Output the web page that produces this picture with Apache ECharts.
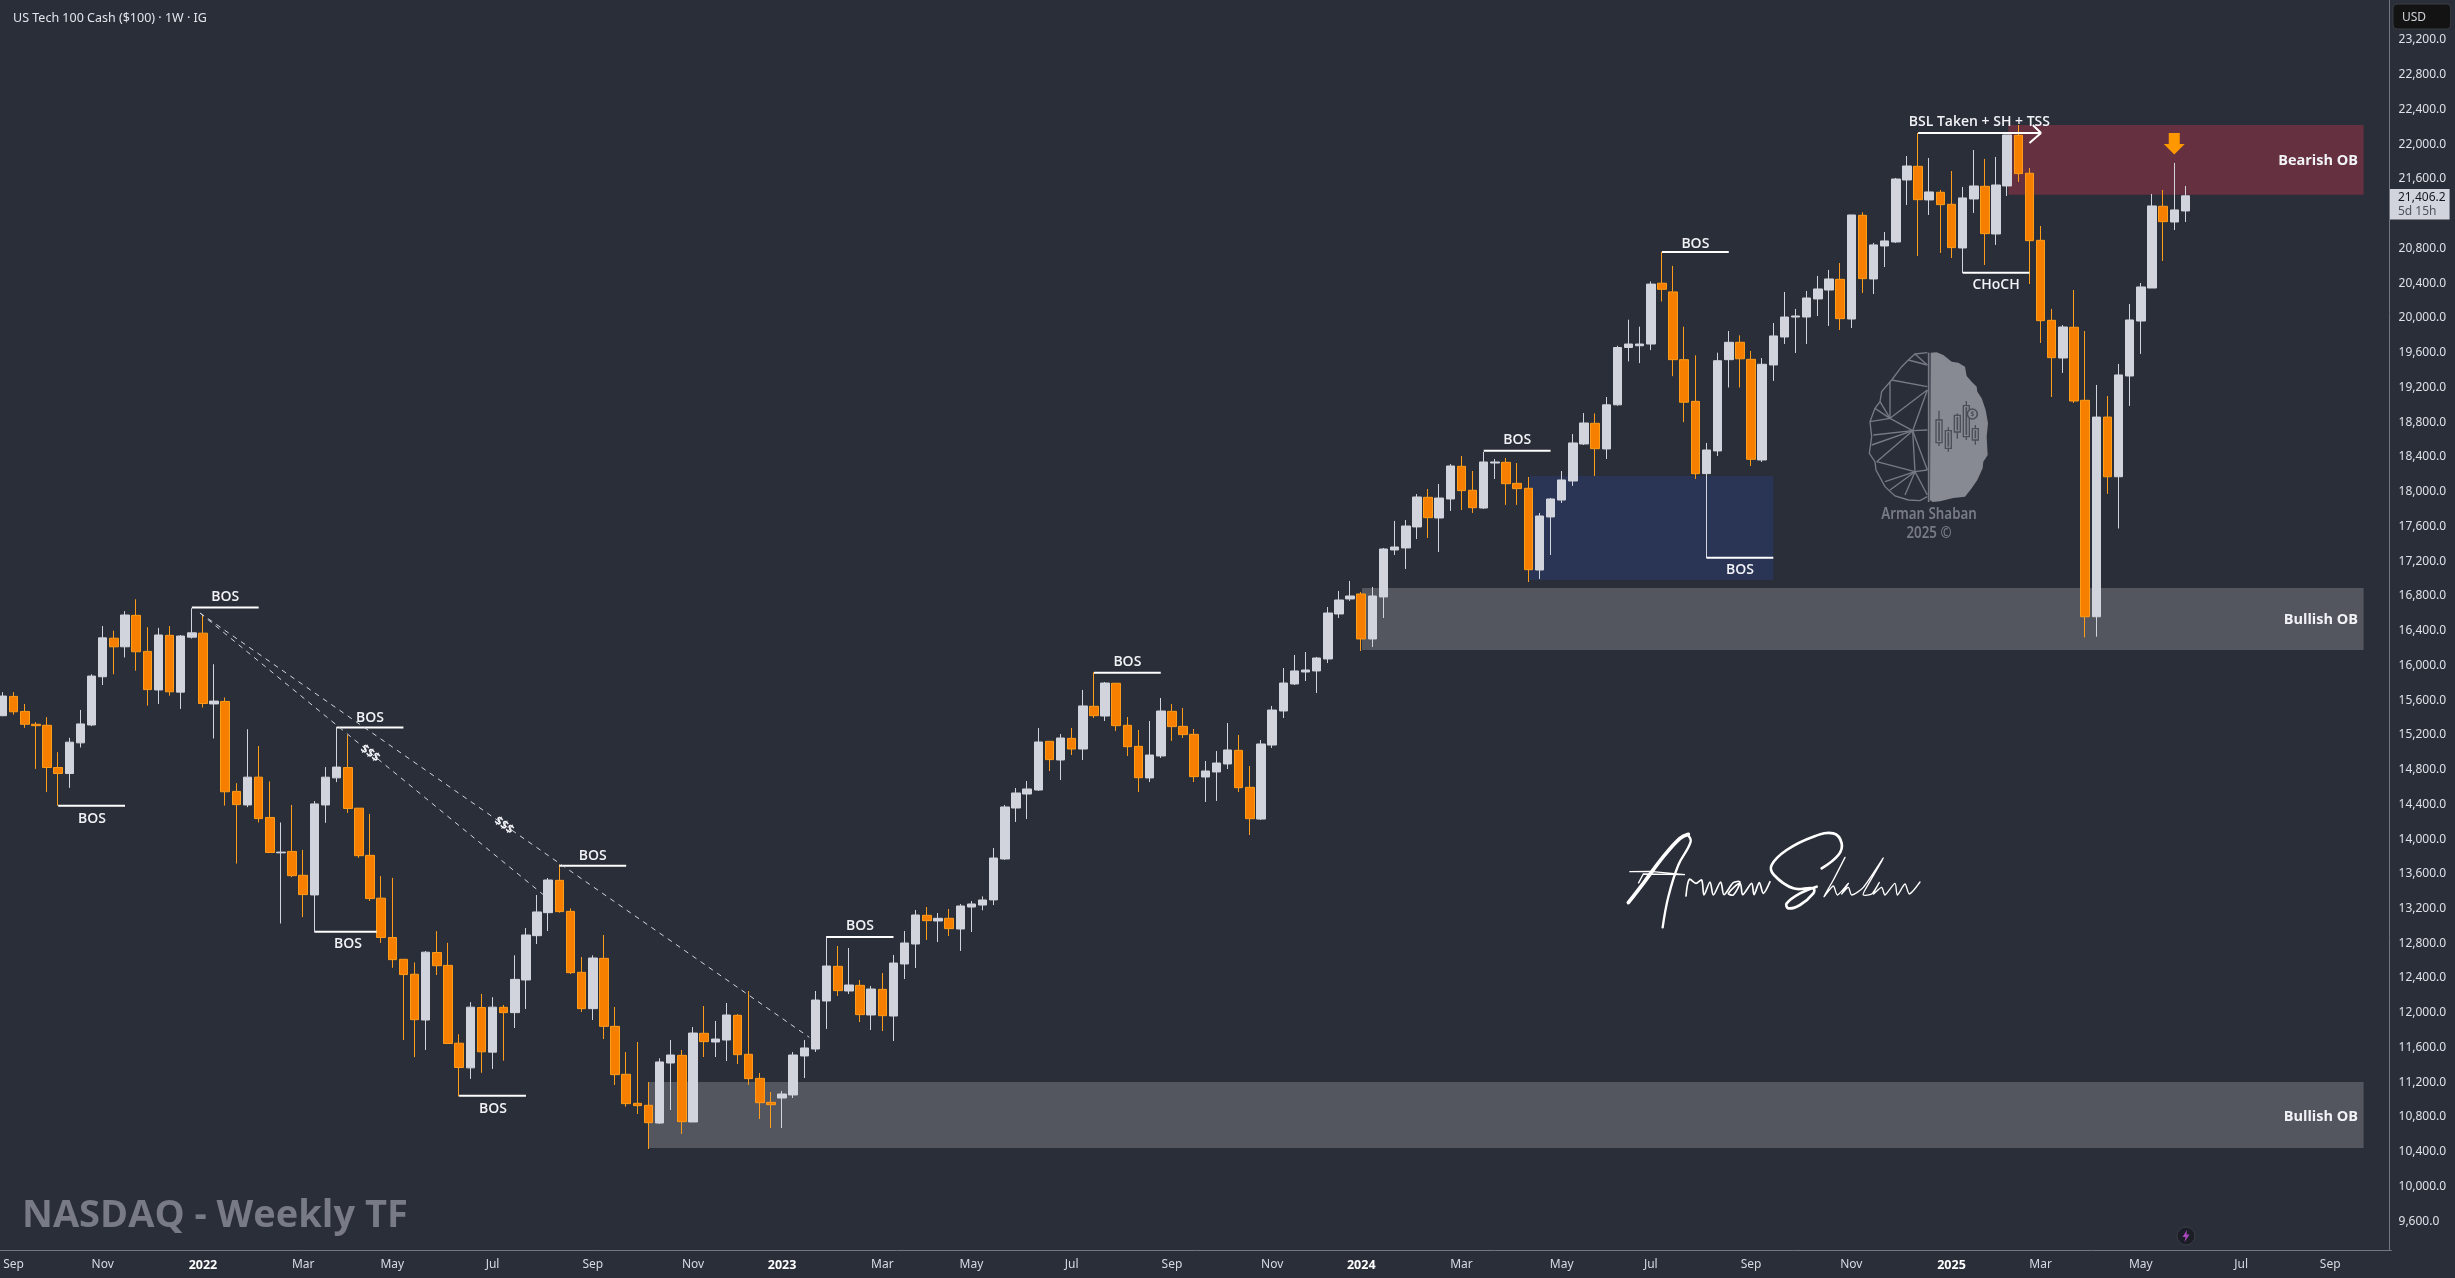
<!DOCTYPE html>
<html><head><meta charset="utf-8"><title>US Tech 100 Weekly</title>
<style>html,body{margin:0;padding:0;background:#2a2e39;overflow:hidden}#c{width:2455px;height:1278px}</style>
<script src="https://cdn.jsdelivr.net/npm/echarts@6/dist/echarts.min.js"></script>
</head><body><div id="c"></div>
<script>
// [open, close, low, high] per weekly bar, from the week of 30 Aug 2021
const candles2021=[[15421,15647,15415,15692],[15643,15466,15433,15692],[15470,15322,15281,15556],[15322,15306,14808,15347],[15310,14824,14541,15404],[14824,14755,14385,15001],[14755,15116,14590,15166],[15108,15326,15055,15487],[15314,15877,15301,15898],[15869,16317,15774,16453],[16313,16214,15898,16399],[16214,16580,16091,16625],[16576,16157,15939,16761],[16161,15721,15536,16440],[15717,16350,15556,16432],[16346,15696,15651,16453],[15692,16338,15499,16350],[16325,16375,16309,16658]];
const candles2022=[[16371,15561,15515,16576],[15556,15589,15158,16013],[15585,14545,14385,15630],[14549,14397,13718,14644],[14393,14713,14368,15265],[14713,14236,14191,15071],[14249,13846,13842,14664],[13842,13850,13028,14191],[13858,13579,13562,14393],[13583,13361,13102,13875],[13357,14405,12937,14438],[14393,14713,14187,14829],[14705,14829,14656,15289],[14824,14352,14302,15199],[14356,13809,13784,14356],[13813,13315,13287,14290],[13320,12867,12805,13574],[12867,12612,12518,13554],[12616,12440,11687,12616],[12444,11921,11490,12579],[11917,12698,11572,12711],[12694,12542,12435,12941],[12546,11646,11646,12806],[11650,11370,11037,11753],[11366,12065,11239,12123],[12061,11551,11309,12218],[11547,12065,11354,12180],[12063,12002,11449,12090],[12002,12385,11825,12662],[12378,12896,12044,12976],[12888,13161,12792,13356],[13153,13529,12942,13552],[13525,13165,13153,13709],[13168,12462,12447,13203],[12466,12048,12009,12642],[12048,12631,11917,12662],[12627,11844,11698,12896],[11844,11288,11169,12067],[11292,10954,10919,11549],[10958,10931,10835,11664],[10935,10735,10432,11203],[10731,11434,10720,11476],[11422,11514,10881,11687],[11510,10747,10605,11572],[10743,11767,10743,11836],[11764,11668,11491,12078],[11664,11698,11491,11906],[11687,11975,11445,12113],[11971,11518,11410,11986],[11522,11242,11169,12251],[11245,10965,10777,11307],[10969,10942,10674,11088]];
const candles2023=[[11019,11065,10674,11100],[11054,11514,11019,11549],[11503,11595,11249,11687],[11583,12147,11549,12251],[12136,12539,11814,12884],[12535,12255,12193,12769],[12251,12320,12216,12746],[12316,11979,11894,12378],[11975,12274,11802,12309],[12270,11967,11790,12458],[11963,12573,11675,12666],[12562,12804,12389,12942],[12792,13126,12516,13184],[13122,13061,12838,13218],[13057,13088,12815,13149],[13088,12969,12884,13195],[12965,13230,12712,13253],[13218,13253,12930,13287],[13241,13299,13180,13340],[13300,13782,13240,13898],[13771,14370,13760,14393],[14358,14531,14197,14588],[14519,14577,14231,14669],[14565,15118,14554,15279],[15126,14915,14784,15126],[14911,15164,14680,15210],[15160,15037,14968,15279],[15037,15533,14911,15717],[15529,15421,15394,15920],[15417,15797,15360,15809],[15794,15306,15245,15794],[15310,15064,14957,15406],[15068,14707,14542,15256],[14704,14968,14657,15360],[14957,15475,14934,15625],[15471,15295,15130,15556],[15298,15203,15164,15510],[15206,14719,14657,15268],[14715,14784,14427,14899],[14773,14876,14439,15014],[14865,15026,14807,15337],[15022,14592,14542,15199],[14596,14235,14047,14842],[14231,15095,14220,15141],[15083,15486,15049,15533],[15475,15797,15394,15970],[15786,15936,15774,16120],[15924,15947,15820,16154],[15936,16085,15682,16097],[16074,16603,16028,16672],[16592,16753,16546,16857],[16765,16799,16742,16972]];
const candles2024=[[16822,16304,16166,16845],[16304,16799,16212,16903],[16788,17340,16546,17352],[17329,17363,17271,17663],[17352,17605,17110,17674],[17594,17939,17455,17973],[17935,17701,17467,18031],[17697,17927,17306,18089],[17916,18296,17778,18319],[18292,18012,17789,18411],[18016,17816,17755,18238],[17812,18342,17801,18457],[18330,18342,18146,18376],[18338,18092,17847,18388],[18096,18035,17847,18330],[18039,17102,16960,18169],[17098,17720,16995,17755],[17709,17916,17271,17927],[17904,18135,17870,18238],[18123,18561,18066,18664],[18549,18791,18538,18905],[18787,18495,18181,18900],[18492,19000,18376,19090],[19000,19660,18990,19680],[19660,19700,19500,19980],[19680,19700,19480,19900],[19700,20390,19630,20420],[20400,20330,20190,20760],[20300,19520,19330,20600],[19520,19030,18800,19900],[19040,18207,18146,19570],[18208,18480,17237,18561],[18469,19508,18411,19600],[19520,19720,19200,19850],[19720,19530,19200,19800],[19524,18373,18296,19620],[18365,19467,18342,19539],[19459,19793,19275,19942],[19781,20011,19701,20300],[20011,20023,19597,20104],[20011,20230,19701,20311],[20219,20334,20023,20484],[20322,20449,19908,20553],[20445,19992,19862,20633],[19988,21186,19885,21186],[21182,20453,20288,21217],[20449,20841,20276,20864],[20829,20887,20587,20990],[20875,21600,20864,21612],[21589,21750,21301,21865],[21746,21362,20714,22130],[21359,21451,21186,21842],[21447,21305,20748,21474]];
const candles2025=[[21309,20810,20691,21692],[20806,21382,20518,21508],[21370,21520,21209,21934],[21516,20971,20610,21831],[20967,21531,20841,21854],[21520,22107,21405,22107],[22103,21662,21566,22222],[21666,20890,20391,21727],[20894,19969,19712,21059],[19973,19543,19090,20104],[19539,19896,19367,19919],[19893,19044,19021,20322],[19052,16560,16322,19850],[16560,18859,16330,19229],[18859,18172,17975,19101],[18172,19344,17576,19471],[19332,19977,18987,20161],[19965,20357,19586,20403],[20345,21290,20345,21428],[21286,21109,20656,21474],[21105,21244,21013,21785],[21232,21406.2,21105,21520]];
const firstWeek='2021-08-30';
const weekSlots=215;
const priceMin=9269, priceMax=23661;
const yTicks=[9600,10000,10400,10800,11200,11600,12000,12400,12800,13200,13600,14000,14400,14800,15200,15600,16000,16400,16800,17200,17600,18000,18400,18800,19200,19600,20000,20400,20800,21200,21600,22000,22400,22800,23200];
const xTickWeeks=[1,9,18,27,35,44,53,62,70,79,87,96,105,114,122,131,140,148,157,166,175,183,192,201,209];
const xTickNames=['Sep','Nov','2022','Mar','May','Jul','Sep','Nov','2023','Mar','May','Jul','Sep','Nov','2024','Mar','May','Jul','Sep','Nov','2025','Mar','May','Jul','Sep'];
// zones: startWeek, endWeek, priceTop, priceBottom
const zoneBearish=[[180.1,212,22222,21420]];
const zoneBullish=[[122.07,212,16891,16177],[58,212,11203,10443]];
const zoneBlue=[[137.1,159,18181,16983]];
// solid structure lines: week0, price0, week1, price1
const structureLines=[[17,16667,23,16667],[30,15285,36,15285],[5,14385,11,14385],[28,12933,33.6,12933],[41,11045,47,11045],[50,13694,56,13694],[74,12873,80,12873],[98,15916,104,15916],[133,18472,139,18472],[149,20760,155,20760],[153,17240,159,17240],[176,20522,182,20522],[172,22130,183.04,22130],[182.3,22222,183.04,22130],[182,22015,183.04,22130]];
const dashedLines=[[17.73,16603,72.44,11718],[17.73,16603,48.7,13345]];
// text marks: week, price
const labelTexts=['BOS','BOS','BOS','BOS','BOS','BOS','BOS','BOS','BOS','BOS','BOS','BSL Taken + SH + TSS','CHoCH'];
const labelPoints=[[20,16799],[33,15417],[8.04,14254],[31.02,12804],[44.04,10915],[53,13828],[77,13011],[101,16051],[136,18607],[152,20864],[156,17110],[177.5,22268],[179,20392]];
const zoneTexts=['Bearish OB','Bullish OB','Bullish OB'];
const zonePoints=[[211.5,21827],[211.5,16546],[211.5,10823]];
const dollarTexts=['$$$','$$$'];
const dollarPoints=[[33,15003],[45.03,14174]];
const arrowPoints=[[195,21881]];

const candles=[...candles2021,...candles2022,...candles2023,...candles2024,...candles2025];
const start=new Date(firstWeek+'T00:00:00Z').getTime();
const categories=Array.from({length:weekSlots},(_,i)=>new Date(start+i*7*864e5).toISOString().slice(0,10));
const tickName={};xTickWeeks.forEach((w,i)=>{tickName[w]=xTickNames[i]});

function zoneSeries(name,data,color){
  return {type:'custom',name,xAxisIndex:1,yAxisIndex:0,z:1,silent:true,data,encode:{x:[0,1],y:[2,3]},
    renderItem:(p,api)=>{const a=api.coord([api.value(0),api.value(2)]),b=api.coord([api.value(1),api.value(3)]);
      return {type:'rect',shape:{x:a[0],y:a[1],width:b[0]-a[0],height:b[1]-a[1]},style:{fill:color}}}};
}
function lineSeries(name,data,style){
  return {type:'custom',name,xAxisIndex:1,yAxisIndex:0,z:5,silent:true,data,encode:{x:[0,2],y:[1,3]},
    renderItem:(p,api)=>{const a=api.coord([api.value(0),api.value(1)]),b=api.coord([api.value(2),api.value(3)]);
      return {type:'line',shape:{x1:a[0],y1:a[1],x2:b[0],y2:b[1]},style}}};
}
function textSeries(name,points,texts,font,align,rotation){
  return {type:'custom',name,xAxisIndex:1,yAxisIndex:0,z:6,silent:true,data:points,encode:{x:0,y:1},
    renderItem:(p,api)=>{const a=api.coord([api.value(0),api.value(1)]);
      return {type:'text',x:a[0],y:a[1]+1.5,rotation:rotation||0,
        style:{text:texts[p.dataIndex],x:0,y:0,font,fill:'#f2f3f7',align,verticalAlign:'middle'}}}};
}
const labelFont='600 14px "Open Sans"';
const wire='#787b86', fillBrain='#878a92', ink='#4c4f59';
const brainCandles=[[297,212,318,240,308],[325,262,335,272,325],[352,220,296,226,276],[379,183,300,197,290],[406,255,314,266,300]];
const brainLinks=[[262,140,155,120],[205,60,262,75],[225,42,262,75],[150,125,150,235],[262,150,150,235],[150,235,218,272],[262,150,218,272],[218,272,100,285],[218,272,95,315],[218,272,110,365],[218,272,225,395],[262,270,218,272],[225,395,110,365],[225,395,135,425],[225,395,150,450],[225,395,195,465],[225,395,262,465],[218,272,262,390],[262,390,225,395],[105,205,150,235],[90,245,150,235],[120,185,150,235]];
const option={
  animation:false,backgroundColor:'#2a2e39',
  title:{text:'US Tech 100 Cash ($100) · 1W · IG',left:8,top:7,textStyle:{fontFamily:'Noto Sans',fontSize:12.5,fontWeight:400,color:'#e3e5ec'}},
  grid:{left:-3.07,top:0,width:2394.5,height:1250,outerBoundsMode:'none',containLabel:false},
  xAxis:[
    {type:'category',data:categories,boundaryGap:true,axisTick:{show:false},splitLine:{show:false},
      axisLine:{onZero:false,lineStyle:{color:'#73767f',width:1}},
      axisLabel:{interval:i=>tickName[i]!==undefined,hideOverlap:false,margin:9,fontFamily:'Noto Sans',fontSize:12,color:'#d8dae2',
        formatter:(v,i)=>{const t=tickName[i];return /^20/.test(t)?'{y|'+t+'}':t},
        rich:{y:{fontFamily:'Noto Sans',fontSize:12.5,fontWeight:700,color:'#ffffff'}}}},
    {type:'value',show:false,min:-0.5,max:weekSlots-0.5,splitLine:{show:false}}
  ],
  yAxis:[{type:'value',position:'right',offset:-1.9,scale:true,min:priceMin,max:priceMax,splitLine:{show:false},
    axisLine:{show:true,onZero:false,lineStyle:{color:'#73767f',width:1}},axisTick:{show:false},
    axisLabel:{customValues:yTicks,margin:9,padding:[4,0,0,0],fontFamily:'Noto Sans',fontSize:12,color:'#dfe1e8',
      formatter:v=>Number(v).toLocaleString('en-US',{minimumFractionDigits:1,maximumFractionDigits:1})}}],
  series:[
    zoneSeries('Bearish OB',zoneBearish,'#65303f'),
    zoneSeries('Bullish OB',zoneBullish,'#54565f'),
    zoneSeries('Blue zone',zoneBlue,'#2a3556'),
    {type:'candlestick',name:'US100',z:3,xAxisIndex:0,yAxisIndex:0,barWidth:9,silent:true,data:candles,
      itemStyle:{color:'#d1d4dc',color0:'#f77f00',borderColor:'#d1d4dc',borderColor0:'#ff9c1a',borderWidth:1}},
    lineSeries('Structure',structureLines,{stroke:'#ffffff',lineWidth:2}),
    lineSeries('Dashed',dashedLines,{stroke:'#d1d4dc',lineWidth:1,lineDash:[5,5]}),
    textSeries('Labels',labelPoints,labelTexts,labelFont,'center'),
    textSeries('Zone labels',zonePoints,zoneTexts,'700 14.5px "Open Sans"','right'),
    textSeries('Dollar labels',dollarPoints,dollarTexts,'700 12px "Open Sans"','center',-0.62),
    {type:'custom',name:'Arrow',xAxisIndex:1,yAxisIndex:0,z:6,silent:true,data:arrowPoints,encode:{x:0,y:1},
      renderItem:(p,api)=>{const a=api.coord([api.value(0),api.value(1)]);
        return {type:'polygon',x:a[0],y:a[1],shape:{points:[[0,0],[-10.5,-10.6],[-5.5,-10.6],[-5.5,-21.7],[5.5,-21.7],[5.5,-10.6],[10.5,-10.6]]},style:{fill:'#ff9800'}}}}
  ],
  graphic:{elements:[
    {type:'rect',z:100,shape:{x:2393,y:4,width:57.7,height:25,r:4},style:{fill:'#131313',stroke:'#3a3d45',lineWidth:1}},
    {type:'text',z:101,style:{text:'USD',x:2402,y:18,font:'12px "Noto Sans"',fill:'#d1d4dc',verticalAlign:'middle'}},
    {type:'rect',z:100,shape:{x:2390,y:189,width:59.6,height:30.6},style:{fill:'#d1d4dc'}},
    {type:'text',z:101,style:{text:'21,406.2',x:2398,y:198,font:'12px "Noto Sans"',fill:'#131722',verticalAlign:'middle'}},
    {type:'text',z:101,style:{text:'5d 15h',x:2398,y:212,font:'12px "Noto Sans"',fill:'#4f525d',verticalAlign:'middle'}},
    {type:'text',z:50,style:{text:'NASDAQ - Weekly TF',x:22,y:1216,font:'700 38px "Open Sans"',fill:'#787b86',verticalAlign:'middle'}},
    {type:'circle',z:50,shape:{cx:2186,cy:1236,r:9},style:{fill:'#1b1e27',stroke:'#3a3d45',lineWidth:1}},
    {type:'polygon',z:51,shape:{points:[[2187,1230],[2182.5,1237],[2185.5,1237],[2184.5,1242],[2189.5,1234.5],[2186.5,1234.5]]},style:{fill:'#ab47bc'}},
    // brain watermark
    {type:'group',z:2,x:1840,y:340,scaleX:1/3,scaleY:1/3,silent:true,children:[
      {type:'polygon',shape:{points:[[272,38],[290,37],[310,45],[335,65],[355,68],[375,80],[380,108],[395,125],[410,140],[412,155],[425,175],[437,210],[444,250],[440,290],[443,345],[430,365],[428,385],[412,420],[395,445],[375,470],[340,474],[300,484],[278,486],[270,480]]},style:{fill:fillBrain}},
      {type:'polyline',shape:{points:[[262,38],[225,42],[205,60],[185,80],[155,120],[125,155],[120,185],[105,205],[90,245],[95,290],[88,340],[105,365],[108,390],[135,440],[165,468],[205,480],[240,482],[262,470]]},style:{stroke:wire,lineWidth:4,fill:'none'}},
      {type:'line',shape:{x1:266,y1:38,x2:266,y2:486},style:{stroke:wire,lineWidth:5}},
      ...brainLinks.map(s=>({type:'line',shape:{x1:s[0],y1:s[1],x2:s[2],y2:s[3]},style:{stroke:wire,lineWidth:4}})),
      ...brainCandles.map(s=>[
        {type:'line',shape:{x1:s[0],y1:s[1],x2:s[0],y2:s[2]},style:{stroke:ink,lineWidth:4}},
        {type:'rect',shape:{x:s[0]-9,y:s[3],width:18,height:s[4]-s[3]},style:{fill:fillBrain,stroke:ink,lineWidth:4}},
        {type:'line',shape:{x1:s[0],y1:s[3]+5,x2:s[0],y2:s[4]-5},style:{stroke:ink,lineWidth:5}}
      ]).flat(),
      {type:'circle',shape:{cx:397,cy:222,r:15},style:{fill:fillBrain,stroke:ink,lineWidth:5}},
      {type:'text',style:{text:'$',x:397,y:222,font:'700 20px "Noto Sans"',fill:ink,align:'center',verticalAlign:'middle'}}
    ]},
    {type:'text',z:2,x:1929,y:514.5,scaleX:.86,style:{text:'Arman Shaban',x:0,y:0,font:'600 15.5px "Noto Sans"',fill:wire,align:'center',verticalAlign:'middle'}},
    {type:'text',z:2,x:1929,y:534,scaleX:.86,style:{text:'2025 ©',x:0,y:0,font:'600 15.5px "Noto Sans"',fill:wire,align:'center',verticalAlign:'middle'}},
    // signature
    {type:'group',z:2,x:1600,y:800,scaleX:1/3,scaleY:1/3,silent:true,children:[
      {type:'polyline',shape:{points:[[85,308],[130,250],[190,170],[240,115],[265,103]],smooth:.4},style:{stroke:'#fff',lineWidth:11,lineCap:'round',fill:'none'}},
      {type:'polyline',shape:{points:[[262,103],[272,125],[235,195],[205,290],[188,382]],smooth:.4},style:{stroke:'#fff',lineWidth:7,lineCap:'round',fill:'none'}},
      {type:'polyline',shape:{points:[[88,215],[150,214],[255,224],[130,222],[115,250]]},style:{stroke:'#fff',lineWidth:4,fill:'none'}},
      {type:'polyline',shape:{points:[[258,288],[268,238],[288,250],[305,240],[312,285],[330,246],[340,285],[362,246],[372,284],[400,248],[420,246],[400,285],[385,280],[420,250],[428,284],[455,250],[462,284],[478,248],[490,280],[510,245]],smooth:.3},style:{stroke:'#fff',lineWidth:5,lineCap:'round',fill:'none'}},
      {type:'polyline',shape:{points:[[665,205],[715,165],[725,130],[700,100],[640,110],[560,150],[515,195],[522,225],[580,265],[640,265],[640,280],[600,315],[565,325],[560,310],[600,280],[650,260]],smooth:.4},style:{stroke:'#fff',lineWidth:8,lineCap:'round',fill:'none'}},
      {type:'polyline',shape:{points:[[735,172],[700,240],[672,290],[700,258],[712,285],[745,250],[725,282],[745,262],[755,285],[790,262],[850,174],[795,270],[790,285],[815,282],[838,247],[820,282],[845,262],[855,285],[885,250],[892,285],[915,252],[928,282],[960,246]],smooth:.25},style:{stroke:'#fff',lineWidth:4,lineCap:'round',fill:'none'}}
    ]}
  ]}
};
const chart=echarts.init(document.getElementById('c'),null,{renderer:'canvas',width:2455,height:1278});
chart.setOption(option);
</script></body></html>
